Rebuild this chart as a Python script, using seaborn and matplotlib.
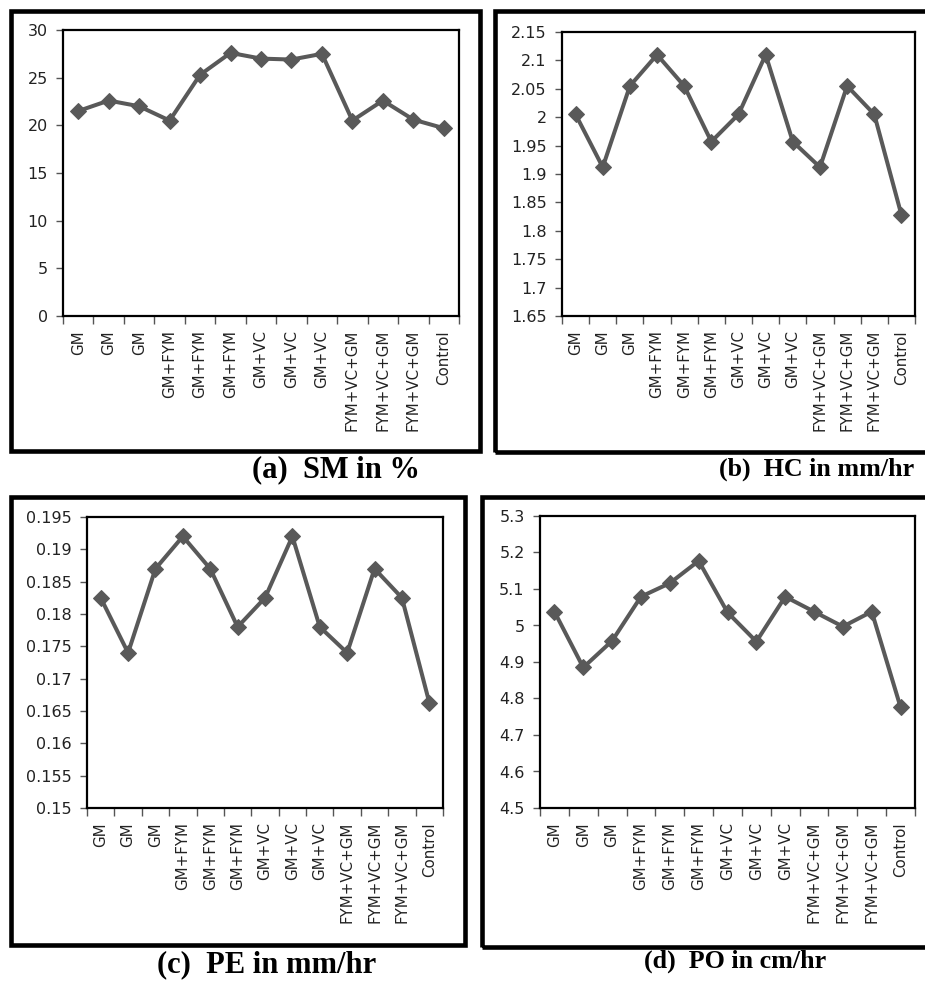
import numpy as np
import pandas as pd
import matplotlib
matplotlib.use("Agg")
import matplotlib.pyplot as plt
from matplotlib.patches import Rectangle
import seaborn as sns

# ---------------- data ----------------
categories = ["GM", "GM", "GM", "GM+FYM", "GM+FYM", "GM+FYM",
              "GM+VC", "GM+VC", "GM+VC",
              "FYM+VC+GM", "FYM+VC+GM", "FYM+VC+GM", "Control"]
sm_values = [21.5, 22.6, 22.0, 20.5, 25.3, 27.6, 27.0, 26.9, 27.5, 20.5, 22.6, 20.6, 19.7]
hc_values = [2.005, 1.912, 2.055, 2.110, 2.055, 1.957, 2.005, 2.110, 1.957, 1.912, 2.055, 2.005, 1.828]
pe_values = [0.1825, 0.1740, 0.1870, 0.1920, 0.1870, 0.1780, 0.1825, 0.1920, 0.1780, 0.1740, 0.1870, 0.1825, 0.1663]
po_values = [5.038, 4.885, 4.958, 5.079, 5.116, 5.177, 5.036, 4.956, 5.079, 5.038, 4.997, 5.038, 4.776]

sm_ticks = [0, 5, 10, 15, 20, 25, 30]
hc_ticks = [1.65, 1.7, 1.75, 1.8, 1.85, 1.9, 1.95, 2.0, 2.05, 2.1, 2.15]
pe_ticks = [0.15, 0.155, 0.16, 0.165, 0.17, 0.175, 0.18, 0.185, 0.19, 0.195]
po_ticks = [4.5, 4.6, 4.7, 4.8, 4.9, 5.0, 5.1, 5.2, 5.3]

sm_labels = ["0", "5", "10", "15", "20", "25", "30"]
hc_labels = ["1.65", "1.7", "1.75", "1.8", "1.85", "1.9", "1.95", "2", "2.05", "2.1", "2.15"]
pe_labels = ["0.15", "0.155", "0.16", "0.165", "0.17", "0.175", "0.18", "0.185", "0.19", "0.195"]
po_labels = ["4.5", "4.6", "4.7", "4.8", "4.9", "5", "5.1", "5.2", "5.3"]

captions = ["(a)  SM in %", "(b)  HC in mm/hr", "(c)  PE in mm/hr", "(d)  PO in cm/hr"]

# ---------------- style ----------------
sns.set_style("white")
plt.rcParams["font.family"] = ["DejaVu Sans"]

W, H = 925, 983
fig = plt.figure(figsize=(W / 100, H / 100), dpi=100)


def fx(px):
    return px / W


def fy(py):
    return 1 - py / H


LINE_COLOR = "#595959"

panels = [
    # (values, ticks, labels, axes px box (x0, y0, x1, y1), outer box, caption pos, caption size)
    (sm_values, sm_ticks, sm_labels, (63, 30, 459, 316), (11, 11, 480, 451), (336, 470), 22),
    (hc_values, hc_ticks, hc_labels, (562, 32, 915, 316), (495, 11, 940, 452), (817, 469), 18.7),
    (pe_values, pe_ticks, pe_labels, (87, 517, 443, 808), (11, 497, 465, 945), (267, 965), 22),
    (po_values, po_ticks, po_labels, (540, 516, 915, 808), (482, 497, 940, 947), (735, 961), 18.7),
]

n = len(categories)
for (vals, ticks, tlabels, box, outer, cpos, csize), cap in zip(panels, captions):
    x0, y0, x1, y1 = box
    ax = fig.add_axes([fx(x0), fy(y1), fx(x1 - x0), (y1 - y0) / H])
    df = pd.DataFrame({"pos": np.arange(n), "value": vals})
    sns.lineplot(data=df, x="pos", y="value", ax=ax, color=LINE_COLOR,
                 linewidth=2.9, marker="D", markersize=8,
                 markeredgecolor=LINE_COLOR, markerfacecolor=LINE_COLOR,
                 sort=False)
    ax.set_xlim(-0.5, n - 0.5)
    ax.set_ylim(ticks[0], ticks[-1])
    ax.set_yticks(ticks)
    ax.set_yticklabels(tlabels)
    # category boundaries as major ticks (no labels), category centres as minor ticks with labels
    ax.set_xticks(np.arange(n + 1) - 0.5)
    ax.set_xticklabels([])
    ax.set_xticks(np.arange(n), minor=True)
    ax.set_xticklabels(categories, minor=True, rotation=90, fontsize=10.8, color="#222222")
    ax.tick_params(axis="x", which="major", direction="out", length=6, width=1.0,
                   color="#555555", bottom=True)
    ax.tick_params(axis="x", which="minor", length=0, pad=10, bottom=True)
    ax.tick_params(axis="y", which="major", direction="out", length=5, width=1.0,
                   color="#555555", left=True, pad=6, labelsize=11.5, labelcolor="#222222")
    ax.set_xlabel("")
    ax.set_ylabel("")
    for s in ax.spines.values():
        s.set_visible(True)
        s.set_color("black")
        s.set_linewidth(1.6)
    ax.grid(False)

    # outer thick frame
    ox0, oy0, ox1, oy1 = outer
    rect = Rectangle((fx(ox0), fy(oy1)), fx(ox1 - ox0), (oy1 - oy0) / H,
                     transform=fig.transFigure, fill=False, edgecolor="black",
                     linewidth=3.3, zorder=10)
    fig.add_artist(rect)

    fig.text(fx(cpos[0]), fy(cpos[1]), cap, ha="center", va="center",
             fontsize=csize, fontweight="bold", family=["Liberation Serif", "DejaVu Serif"],
             color="black")

fig.savefig("out.png", dpi=100)
